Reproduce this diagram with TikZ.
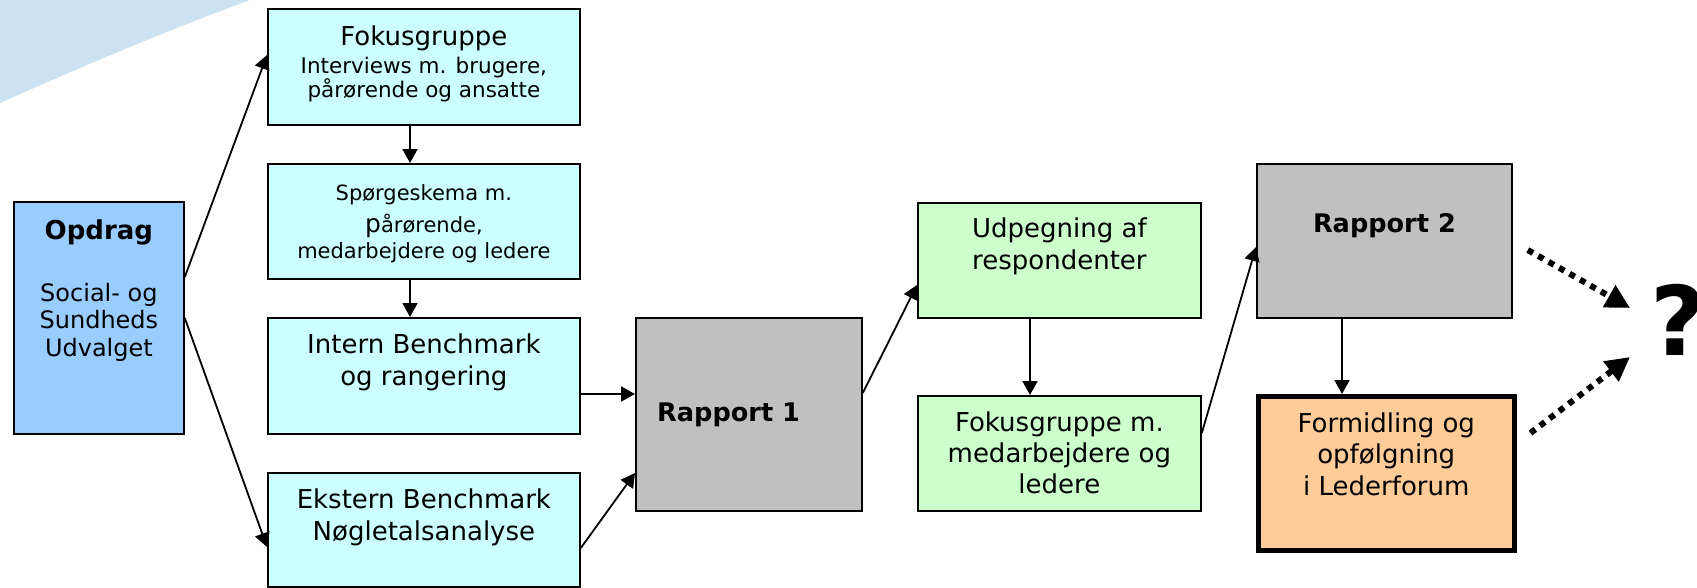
\documentclass[tikz,border=0pt]{standalone}
\usepackage{fontspec}
\setmainfont{DejaVu Sans}
\usetikzlibrary{arrows.meta}

\definecolor{swoosh}{HTML}{CCE2F0}
\definecolor{opdragblue}{HTML}{99CCFF}
\definecolor{stepcyan}{HTML}{CCFFFF}
\definecolor{stepgreen}{HTML}{CCFFCC}
\definecolor{rapportgrey}{HTML}{C0C0C0}
\definecolor{resultorange}{HTML}{FFCC99}

\tikzset{
	box/.style={draw=black, line width=1.8pt, anchor=north west, inner sep=0pt},
	txt/.style={anchor=base, align=center, inner sep=0pt, font=\fontsize{26}{32}\selectfont},
	conn/.style={line width=1.8pt, -{Triangle[length=14pt,width=15pt]}},
	dotconn/.style={line width=6pt, dash pattern=on 6pt off 6pt, -{Triangle[length=24pt,width=24pt]}}
}

\begin{document}
\begin{tikzpicture}[x=1pt,y=-1pt]
		\useasboundingbox (0,0) rectangle (1697,587);
		\clip (0,0) rectangle (1697,587);
		\fill[swoosh] (0,0) -- (0,103) .. controls (70,72) and (150,37) .. (250,0) -- cycle;
		\node[box, fill=opdragblue, minimum width=170pt, minimum height=232pt] (opdrag) at (13,201) {};
		\node[box, fill=stepcyan, minimum width=312pt, minimum height=116pt] (fokus) at (267,8) {};
		\node[box, fill=stepcyan, minimum width=312pt, minimum height=115pt] (sporg) at (267,163) {};
		\node[box, fill=stepcyan, minimum width=312pt, minimum height=116pt] (intern) at (267,317) {};
		\node[box, fill=stepcyan, minimum width=312pt, minimum height=114pt] (ekstern) at (267,472) {};
		\node[box, fill=rapportgrey, minimum width=226pt, minimum height=193pt] (rap1) at (635,317) {};
		\node[box, fill=stepgreen, minimum width=283pt, minimum height=115pt] (udp) at (917,202) {};
		\node[box, fill=stepgreen, minimum width=283pt, minimum height=115pt] (fokm) at (917,395) {};
		\node[box, fill=rapportgrey, minimum width=255pt, minimum height=154pt] (rap2) at (1256,163) {};
		\node[box, fill=resultorange, line width=4.5pt, minimum width=256pt, minimum height=154pt] (form) at (1256,394) {};
		\node[txt, font=\bfseries\fontsize{26}{26}\selectfont] (opdragtitle) at ([yshift=-38pt]opdrag.north) {Opdrag};
		\node[txt, font=\fontsize{24}{27.5}\selectfont] (opdragtext) at ([yshift=-155pt]opdrag.north) {Social- og\\Sundheds\\Udvalget};
		\node[txt] (fokustitle) at ([yshift=-37pt]fokus.north) {Fokusgruppe};
		\node[txt, font=\fontsize{21.5}{24}\selectfont] (fokustext) at ([yshift=-89pt]fokus.north) {Interviews m. brugere,\\pårørende og ansatte};
		\node[txt, font=\fontsize{21}{26}\selectfont] (sporgtext) at ([yshift=-95pt]sporg.north) {Spørgeskema m.\\[6pt]{\fontsize{25}{26}\selectfont p}årørende,\\medarbejdere og ledere};
		\node[txt] (interntext) at ([yshift=-68pt]intern.north) {Intern Benchmark\\og rangering};
		\node[txt] (eksterntext) at ([yshift=-68pt]ekstern.north) {Ekstern Benchmark\\Nøgletalsanalyse};
		\node[txt, anchor=base west, font=\bfseries\fontsize{25.6}{30}\selectfont] (rap1text) at ([xshift=22pt,yshift=-104pt]rap1.north west) {Rapport 1};
		\node[txt] (udptext) at ([yshift=-67pt]udp.north) {Udpegning af\\respondenter};
		\node[txt, font=\fontsize{26}{31}\selectfont] (fokmtext) at ([yshift=-98pt]fokm.north) {Fokusgruppe m.\\medarbejdere og\\ledere};
		\node[txt, font=\bfseries\fontsize{25.6}{30}\selectfont] (rap2text) at ([yshift=-69pt]rap2.north) {Rapport 2};
		\node[txt, font=\fontsize{26}{31.5}\selectfont] (formtext) at ([yshift=-101pt]form.north) {Formidling og\\opfølgning\\i Lederforum};
		\node[anchor=west, inner sep=0pt, font=\bfseries\fontsize{96}{96}\selectfont] (qmark) at (1650,320) {?};
		\draw[conn] ([yshift=-76pt]opdrag.north east) -- ([yshift=-47pt]fokus.north west);
		\draw[conn] ([yshift=-117pt]opdrag.north east) -- ([yshift=-75pt]ekstern.north west);
		\draw[conn] ([xshift=143pt]fokus.south west) -- ([xshift=143pt]sporg.north west);
		\draw[conn] ([xshift=143pt]sporg.south west) -- ([xshift=143pt]intern.north west);
		\draw[conn] ([yshift=-77pt]intern.north east) -- ([yshift=-77pt]rap1.north west);
		\draw[conn] ([yshift=-76pt]ekstern.north east) -- ([yshift=-156pt]rap1.north west);
		\draw[conn] ([yshift=-76pt]rap1.north east) -- ([yshift=-83pt]udp.north west);
		\draw[conn] ([xshift=113pt]udp.south west) -- ([xshift=113pt]fokm.north west);
		\draw[conn] ([yshift=-38pt]fokm.north east) -- ([yshift=-84pt]rap2.north west);
		\draw[conn] ([xshift=86pt]rap2.south west) -- ([xshift=86pt]form.north west);
		\draw[dotconn] ([xshift=15pt,yshift=-87pt]rap2.north east) -- ([xshift=-20pt,yshift=12pt]qmark.west);
		\draw[dotconn] ([xshift=14pt,yshift=-39pt]form.north east) -- ([xshift=-20pt,yshift=-37pt]qmark.west);
	\end{tikzpicture}
\end{document}
